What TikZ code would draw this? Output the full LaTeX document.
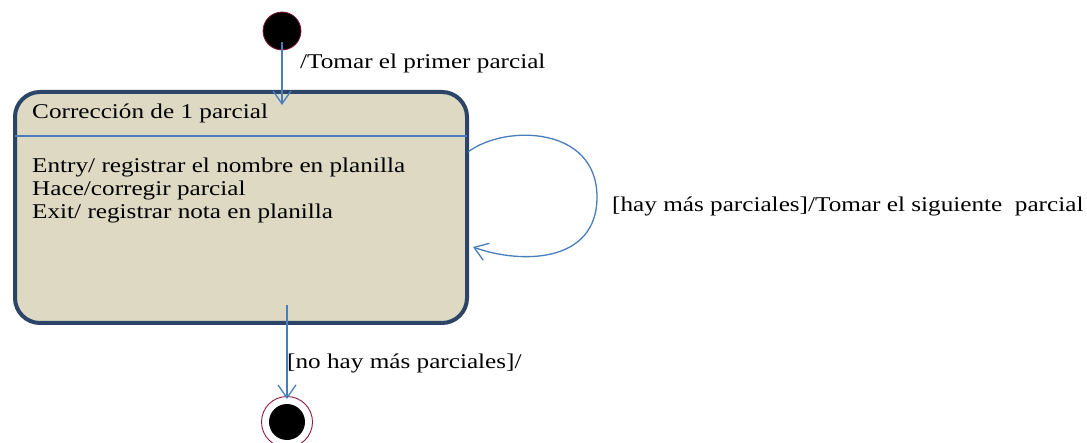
\documentclass[tikz,border=0pt]{standalone}
\usepackage{fontspec}
\setmainfont{Liberation Serif}[FakeStretch=1.2]
\usetikzlibrary{arrows.meta}
\definecolor{boxfill}{HTML}{DDD9C3}
\definecolor{boxline}{HTML}{2B4468}
\definecolor{arrowc}{HTML}{4A7EBB}
\definecolor{ringc}{HTML}{8B1A3A}
\tikzset{
  lbl/.style={anchor=west,inner sep=0pt,font=\fontsize{21}{23}\selectfont},
  conn/.style={draw=arrowc,line width=1.3pt,-{Straight Barb[length=13pt,width=18pt,line width=1.3pt]}},
}
\begin{document}
\begin{tikzpicture}[x=1pt,y=-1pt]
\useasboundingbox (0,0) rectangle (1087,443);
% state box
\node[draw=boxline,fill=boxfill,line width=4pt,rounded corners=25pt,minimum width=452pt,minimum height=231pt,inner sep=0pt] (st) at (241,207.5) {};
\coordinate (dl) at (15,136);
\coordinate (dr) at (467,136);
\draw[arrowc,line width=1.2pt] (dl) -- (dr);
\node[lbl] (title) at (32,113) {Corrección de 1 parcial};
\node[lbl,align=left,anchor=north west] (body) at (32,158) {Entry/ registrar el nombre en planilla\\Hace/corregir parcial\\Exit/ registrar nota en planilla};
% initial
\node[circle,fill=black,draw=ringc,line width=0.8pt,minimum size=38pt,inner sep=0pt] (init) at (282,31) {};
\coordinate (inend) at (282,105);
\draw[conn] (init.center) ++(0,11) -- (inend);
\node[lbl] (l1) at (300,63) {/Tomar el primer parcial};
% final
\node[circle,draw=ringc,line width=0.9pt,minimum size=51pt,inner sep=0pt] (fin) at (287,422) {};
\node[circle,fill=black,minimum size=36pt,inner sep=0pt] (finin) at (fin.center) {};
\coordinate (fstart) at (287,305);
\draw[conn] (fstart) -- ([yshift=-3pt]fin.north);
\node[lbl] (l3) at (287,363) {[no hay más parciales]/};
% self loop
\coordinate (ls) at (468,152);
\coordinate (le) at (473,247);
\draw[conn] (ls) .. controls (505,124) and (597,126) .. (597,197) .. controls (597,264) and (520,264) .. (le);
\node[lbl] (l2) at (612,206) {[hay más parciales]/Tomar el siguiente\ \ parcial};
\end{tikzpicture}
\end{document}
